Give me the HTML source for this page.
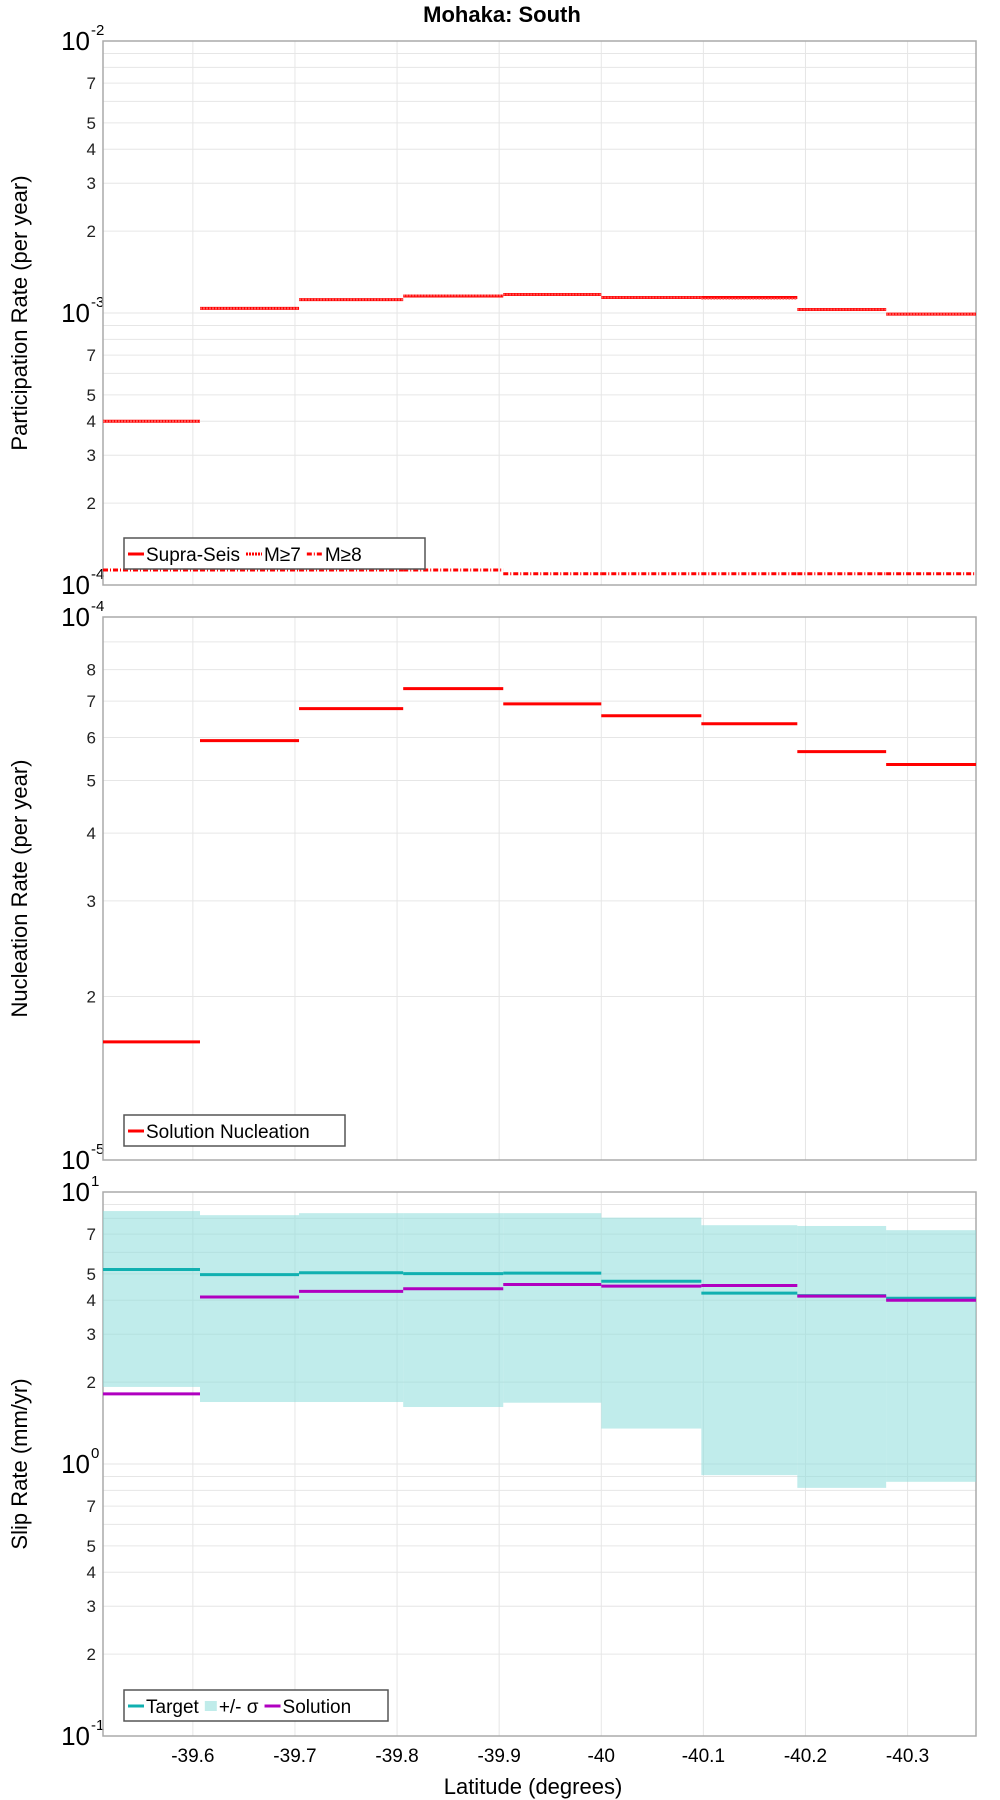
<!DOCTYPE html>
<html><head><meta charset="utf-8"><style>
html,body{margin:0;padding:0;background:#fff;}
svg{display:block;font-family:"Liberation Sans",sans-serif;}
</style></head><body>
<svg id="chart" width="1000" height="1800" viewBox="0 0 1000 1800" xmlns="http://www.w3.org/2000/svg">
<text x="502" y="22" text-anchor="middle" font-size="22" font-weight="bold">Mohaka: South</text>
</svg>
<script>
const binEdges = [-39.512, -39.607, -39.704, -39.806, -39.904, -40.0, -40.098, -40.192, -40.279, -40.367];
const xTicks = [-39.6, -39.7, -39.8, -39.9, -40, -40.1, -40.2, -40.3];
const xTickLabels = ["-39.6", "-39.7", "-39.8", "-39.9", "-40", "-40.1", "-40.2", "-40.3"];
const supraSeis = [4.0e-4, 1.04e-3, 1.12e-3, 1.155e-3, 1.17e-3, 1.14e-3, 1.14e-3, 1.03e-3, 0.99e-3];
const mGe7 = [4.0e-4, 1.04e-3, 1.12e-3, 1.16e-3, 1.17e-3, 1.14e-3, 1.13e-3, 1.03e-3, 0.99e-3];
const mGe8 = [1.135e-4, 1.135e-4, 1.135e-4, 1.135e-4, 1.1e-4, 1.1e-4, 1.1e-4, 1.1e-4, 1.1e-4];
const nucleation = [1.65e-5, 5.92e-5, 6.78e-5, 7.38e-5, 6.92e-5, 6.58e-5, 6.36e-5, 5.65e-5, 5.35e-5];
const target = [5.19, 4.97, 5.05, 5.01, 5.03, 4.70, 4.25, 4.16, 4.07];
const solution = [1.81, 4.11, 4.31, 4.41, 4.57, 4.51, 4.53, 4.14, 4.00];
const sigmaUpper = [8.51, 8.22, 8.36, 8.36, 8.36, 8.05, 7.55, 7.50, 7.24];
const sigmaLower = [1.92, 1.69, 1.69, 1.62, 1.68, 1.35, 0.91, 0.817, 0.86];

const NS = "http://www.w3.org/2000/svg";
const svg = document.getElementById('chart');
const X0 = 103, X1 = 976;
const xScale = v => X0 + (v - binEdges[0]) / (binEdges[binEdges.length-1] - binEdges[0]) * (X1 - X0);
function el(tag, attrs, parent) {
  const e = document.createElementNS(NS, tag);
  for (const k in attrs) e.setAttribute(k, attrs[k]);
  (parent || svg).appendChild(e);
  return e;
}
function makePanel(top, bottom, minExp, maxExp, minorLabels, yTitle, name) {
  const g = el('g', {});
  
  
  const ys = v => bottom - (Math.log10(v) - minExp) / (maxExp - minExp) * (bottom - top);
  // grid
  for (const t of xTicks) {
    const l = el('line', {x1: xScale(t), x2: xScale(t), y1: top, y2: bottom, stroke: '#e6e6e6', 'stroke-width': 1}, g);
    
    
  }
  for (let e = minExp; e <= maxExp; e++) {
    for (let m = 1; m <= 9; m++) {
      const v = m * Math.pow(10, e);
      if (Math.log10(v) > maxExp + 1e-9) continue;
      const y = ys(v);
      const l = el('line', {x1: X0, x2: X1, y1: y, y2: y, stroke: '#e6e6e6', 'stroke-width': 1}, g);
      
      
      if (m === 1) {
        const t = el('text', {x: 90, y: y + 9, 'text-anchor': 'end', 'font-size': 26}, g);
        t.textContent = '10';
        
        
        const s = el('text', {x: 91, y: y - 6, 'font-size': 15}, g);
        s.textContent = String(e);
        
        
      } else if (minorLabels.includes(m) && e < maxExp) {
        const t = el('text', {x: 96, y: y + 6, 'text-anchor': 'end', 'font-size': 17, fill: '#222'}, g);
        t.textContent = String(m);
        
        
      }
    }
  }
  const f = el('rect', {x: X0, y: top, width: X1 - X0, height: bottom - top, fill: 'none', stroke: '#aaa', 'stroke-width': 1.5}, g);
  
  
  const cy = (top + bottom) / 2;
  const yt = el('text', {x: 0, y: 0, transform: `translate(27 ${cy}) rotate(-90)`, 'text-anchor': 'middle', 'font-size': 22}, g);
  yt.textContent = yTitle;
  
  
  return {g, ys};
}
function steps(g, ys, vals, color, dash, name, w) {
  for (let i = 0; i < vals.length; i++) {
    const a = {x1: xScale(binEdges[i]), x2: xScale(binEdges[i+1]), y1: ys(vals[i]), y2: ys(vals[i]), stroke: color, 'stroke-width': w || 3};
    if (dash) a['stroke-dasharray'] = dash;
    const l = el('line', a, g);
    
    
  }
}
function legend(g, x, y, w, items) {
  const r = el('rect', {x, y, width: w, height: 31, fill: '#fff', stroke: '#555', 'stroke-width': 1.5}, g);
  
  
  let cx = x + 4;
  for (const it of items) {
    let m;
    if (it.fill) m = el('rect', {x: cx, y: y + 11, width: 12, height: 10, fill: it.color}, g);
    else {
      const a = {x1: cx, x2: cx + 16, y1: y + 16, y2: y + 16, stroke: it.color, 'stroke-width': 3};
      if (it.dash) a['stroke-dasharray'] = it.dash;
      m = el('line', a, g);
    }
    
    
    cx += it.fill ? 14 : 18;
    const t = el('text', {x: cx, y: y + 23, 'font-size': 19}, g);
    t.textContent = it.label;
    
    
    cx += t.getComputedTextLength() + 6;
  }
}
// Panel 1
const p1 = makePanel(41, 585, -4, -2, [2,3,4,5,7], 'Participation Rate (per year)', 'participation-panel');
steps(p1.g, p1.ys, mGe8, '#f00', '5,2,1,2', 'm-ge-8-line', 3);
steps(p1.g, p1.ys, supraSeis, '#f00', null, 'supra-seis-line', 3);
steps(p1.g, p1.ys, mGe7, '#f55', '2,1', 'm-ge-7-line', 2);
legend(p1.g, 124, 538, 301, [{label:'Supra-Seis', color:'#f00'}, {label:'M≥7', color:'#f00', dash:'2,1'}, {label:'M≥8', color:'#f00', dash:'5,2,1,2'}]);
// Panel 2
const p2 = makePanel(617, 1160, -5, -4, [2,3,4,5,6,7,8], 'Nucleation Rate (per year)', 'nucleation-panel');
steps(p2.g, p2.ys, nucleation, '#f00', null, 'nucleation-line', 3);
legend(p2.g, 124, 1115, 221, [{label:'Solution Nucleation', color:'#f00'}]);
// Panel 3
const p3 = makePanel(1192, 1736, -1, 1, [2,3,4,5,7], 'Slip Rate (mm/yr)', 'slip-rate-panel');
for (let i = 0; i < sigmaUpper.length; i++) {
  const yU = p3.ys(sigmaUpper[i]), yL = p3.ys(sigmaLower[i]);
  const r = el('rect', {x: xScale(binEdges[i]), y: yU, width: xScale(binEdges[i+1]) - xScale(binEdges[i]), height: yL - yU, fill: 'rgba(140,220,218,0.55)'}, p3.g);
  
  
}
steps(p3.g, p3.ys, target, '#10b0b0', null, 'target-line', 3);
steps(p3.g, p3.ys, solution, '#b000c0', null, 'solution-line', 3);
legend(p3.g, 124, 1690, 264, [{label:'Target', color:'#10b0b0'}, {label:'+/- σ', color:'#c0ecea', fill:true}, {label:'Solution', color:'#b000c0'}]);
// x axis
for (let i = 0; i < xTicks.length; i++) {
  const t = el('text', {x: xScale(xTicks[i]), y: 1762, 'text-anchor': 'middle', 'font-size': 19});
  t.textContent = xTickLabels[i];
  
  
}
const xt = el('text', {x: 533, y: 1794, 'text-anchor': 'middle', 'font-size': 22});
xt.textContent = 'Latitude (degrees)';


</script>
</body></html>
